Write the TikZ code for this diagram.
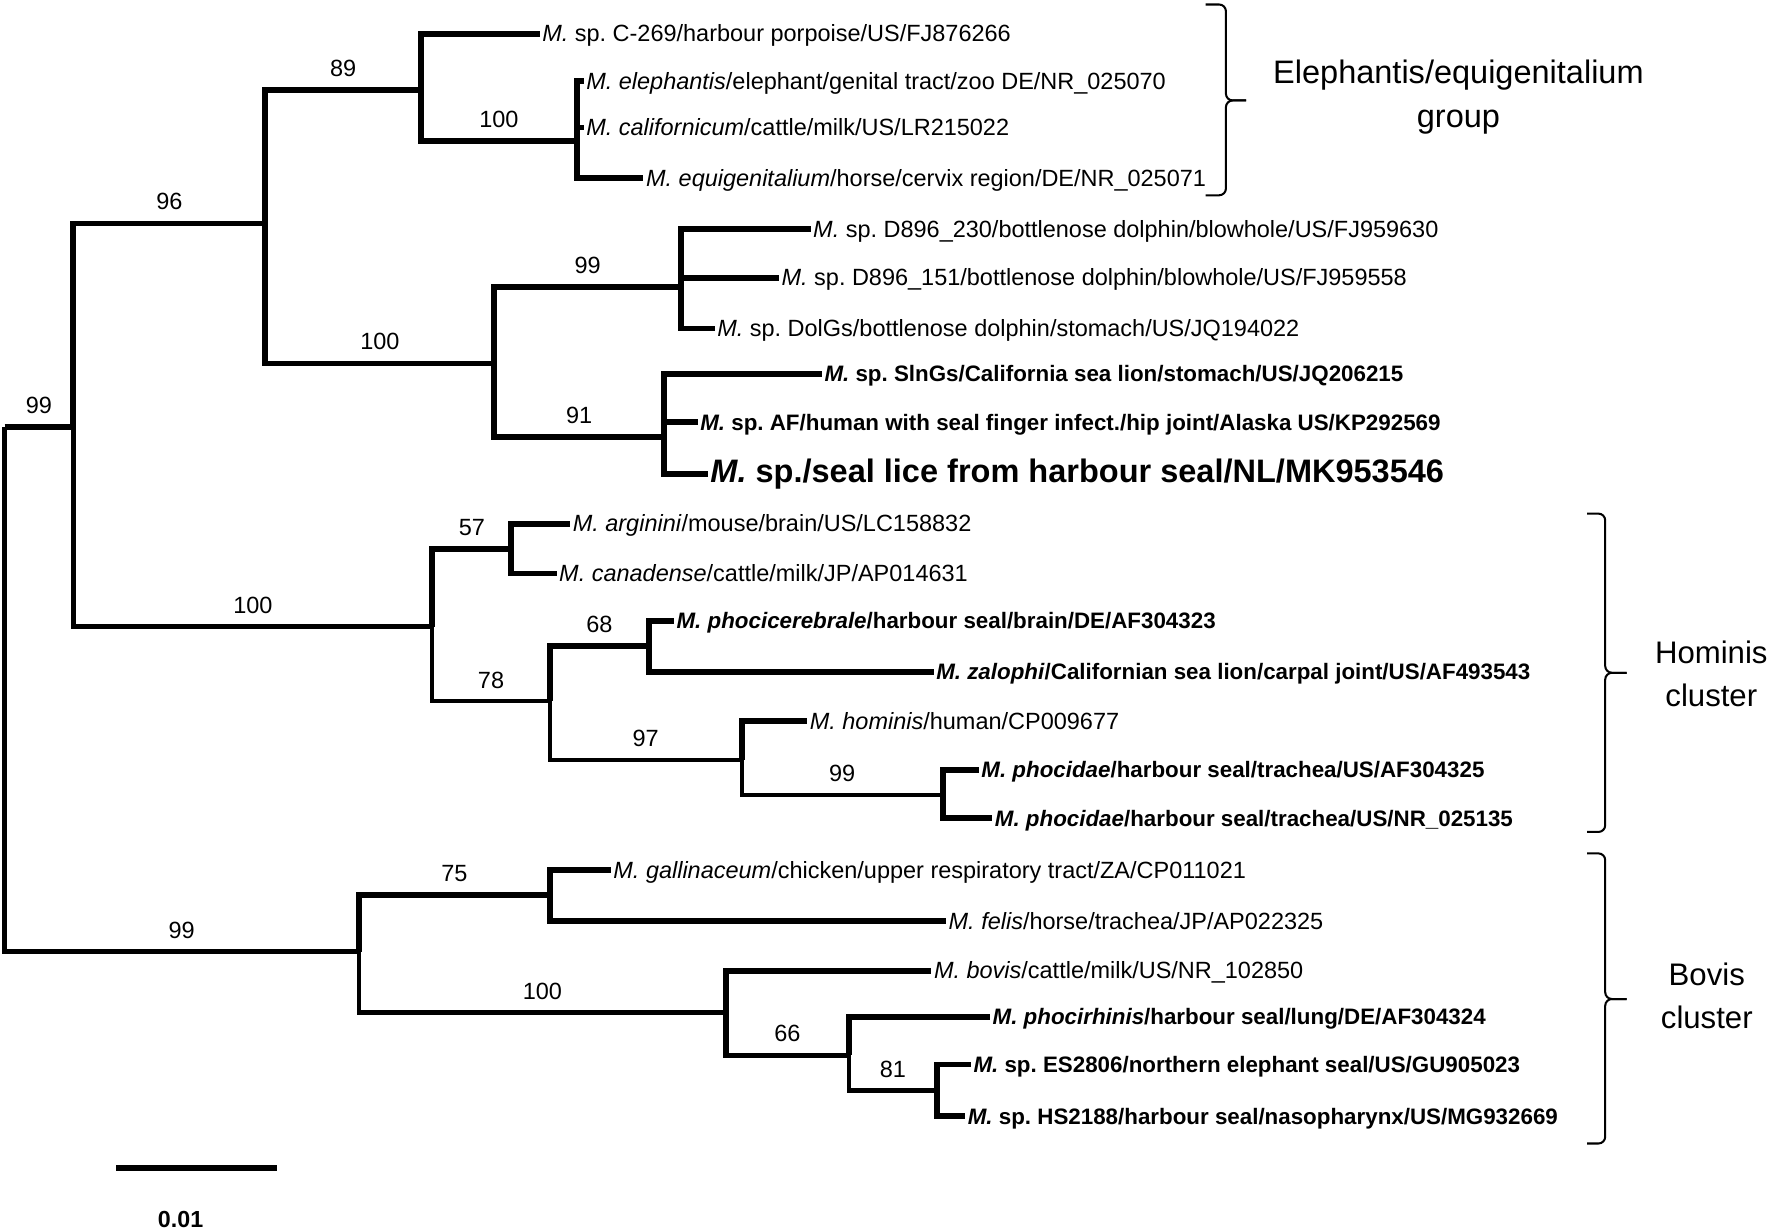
\documentclass[tikz,border=0pt]{standalone}
\usepackage{fontspec}
\setmainfont{Liberation Sans}
\frenchspacing

\begin{document}
\begin{tikzpicture}[x=0.5pt, y=-0.5pt,
    thk/.style={line width=2.6pt},
    thn/.style={line width=1.9pt},
    leaf/.style={anchor=west, inner xsep=1pt, inner ysep=0pt, text height=0.9em, text depth=0.2em, font=\fontsize{10.4}{12}\selectfont},
    bleaf/.style={leaf, font=\fontsize{9.9}{12}\selectfont\bfseries},
    boot/.style={pos=0.75, above=4.6pt, inner sep=0pt, font=\fontsize{10.4}{12}\selectfont},
    grp/.style={align=center, font=\fontsize{13.8}{19}\selectfont},
    bracket/.style={line width=0.9pt, rounded corners=3pt}]
\useasboundingbox (0,0) rectangle (1568,1091);

\coordinate (root) at (4,378);
\coordinate (a) at (65,378);
\coordinate (b) at (235,198);
\coordinate (c) at (373,80);
\coordinate (d) at (511,125);
\coordinate (e) at (438,322);
\coordinate (f) at (603,254);
\coordinate (g) at (588,387);
\coordinate (h) at (383,555);
\coordinate (i) at (453,486);
\coordinate (j) at (487,621);
\coordinate (k) at (575,572);
\coordinate (l) at (657,673);
\coordinate (m) at (835,704);
\coordinate (n) at (318,843);
\coordinate (o) at (487,793);
\coordinate (p) at (643,897);
\coordinate (q) at (752,935);
\coordinate (s) at (830,966);

\node[leaf] (sp269) at (478,30) {\textit{M.} sp. C-269/harbour porpoise/US/FJ876266};
\node[leaf] (eleph) at (517,72) {\textit{M. elephantis}/elephant/genital tract/zoo DE/NR\_025070};
\node[leaf] (calif) at (517,113) {\textit{M. californicum}/cattle/milk/US/LR215022};
\node[leaf] (equig) at (570,158) {\textit{M. equigenitalium}/horse/cervix region/DE/NR\_025071};
\node[leaf] (d230) at (718,203) {\textit{M.} sp. D896\_230/bottlenose dolphin/blowhole/US/FJ959630};
\node[leaf] (d151) at (690,246) {\textit{M.} sp. D896\_151/bottlenose dolphin/blowhole/US/FJ959558};
\node[leaf] (dolgs) at (633,291) {\textit{M.} sp. DolGs/bottlenose dolphin/stomach/US/JQ194022};
\node[bleaf] (slngs) at (728,331) {\textit{M.} sp. SlnGs/California sea lion/stomach/US/JQ206215};
\node[bleaf] (spaf) at (618,374) {\textit{M.} sp. AF/human with seal finger infect./hip joint/Alaska US/KP292569};
\node[leaf, font=\fontsize{14.4}{16}\selectfont\bfseries] (lice) at (627,420) {\textit{M.} sp./seal lice from harbour seal/NL/MK953546};
\node[leaf] (argin) at (505,464) {\textit{M. arginini}/mouse/brain/US/LC158832};
\node[leaf] (canad) at (493,508) {\textit{M. canadense}/cattle/milk/JP/AP014631};
\node[bleaf] (phcer) at (597,550) {\textit{M. phocicerebrale}/harbour seal/brain/DE/AF304323};
\node[bleaf] (zalop) at (827,595) {\textit{M. zalophi}/Californian sea lion/carpal joint/US/AF493543};
\node[leaf] (homin) at (715,639) {\textit{M. hominis}/human/CP009677};
\node[bleaf] (phoc1) at (867,682) {\textit{M. phocidae}/harbour seal/trachea/US/AF304325};
\node[bleaf] (phoc2) at (879,725) {\textit{M. phocidae}/harbour seal/trachea/US/NR\_025135};
\node[leaf] (galli) at (541,771) {\textit{M. gallinaceum}/chicken/upper respiratory tract/ZA/CP011021};
\node[leaf] (felis) at (838,816) {\textit{M. felis}/horse/trachea/JP/AP022325};
\node[leaf] (bovis) at (825,860) {\textit{M. bovis}/cattle/milk/US/NR\_102850};
\node[bleaf] (phrhi) at (877,901) {\textit{M. phocirhinis}/harbour seal/lung/DE/AF304324};
\node[bleaf] (es2806) at (860,943) {\textit{M.} sp. ES2806/northern elephant seal/US/GU905023};
\node[bleaf] (hs2188) at (855,989) {\textit{M.} sp. HS2188/harbour seal/nasopharynx/US/MG932669};

\draw[thk] (root) -- (a) node[midway, above=4.6pt, inner sep=0pt, font=\fontsize{10.4}{12}\selectfont] {99};
\draw[thn] (root) |- (n) node[boot] {99};
\draw[thk] (a) |- (b) node[boot] {96};
\draw[thn] (a) |- (h) node[boot] {100};
\draw[thk] (b) |- (c) node[boot] {89};
\draw[thk] (b) |- (e) node[boot] {100};
\draw[thk] (c) |- (sp269.west);
\draw[thk] (c) |- (d) node[boot] {100};
\draw[thk] (d) |- (eleph.west);
\draw[thk] (d) |- (calif.west);
\draw[thk] (d) |- (equig.west);
\draw[thk] (e) |- (f) node[boot] {99};
\draw[thk] (e) |- (g) node[boot] {91};
\draw[thk] (f) |- (d230.west);
\draw[thk] (f) |- (d151.west);
\draw[thk] (f) |- (dolgs.west);
\draw[thk] (g) |- (slngs.west);
\draw[thk] (g) |- (spaf.west);
\draw[thk] (g) |- (lice.west);
\draw[thk] (h) |- (i) node[boot] {57};
\draw[thn] (h) |- (j) node[boot] {78};
\draw[thk] (i) |- (argin.west);
\draw[thk] (i) |- (canad.west);
\draw[thk] (j) |- (k) node[boot] {68};
\draw[thn] (j) |- (l) node[boot] {97};
\draw[thk] (k) |- (phcer.west);
\draw[thk] (k) |- (zalop.west);
\draw[thk] (l) |- (homin.west);
\draw[thn] (l) |- (m) node[boot] {99};
\draw[thk] (m) |- (phoc1.west);
\draw[thk] (m) |- (phoc2.west);
\draw[thk] (n) |- (o) node[boot] {75};
\draw[thn] (n) |- (p) node[boot] {100};
\draw[thk] (o) |- (galli.west);
\draw[thk] (o) |- (felis.west);
\draw[thk] (p) |- (bovis.west);
\draw[thk] (p) |- (q) node[boot] {66};
\draw[thk] (q) |- (phrhi.west);
\draw[thn] (q) |- (s) node[boot] {81};
\draw[thk] (s) |- (es2806.west);
\draw[thk] (s) |- (hs2188.west);

% scale bar
\coordinate (bar1) at (103,1035);
\coordinate (bar2) at (245,1035);
\draw[thk] (bar1) -- (bar2);
\node[font=\fontsize{10.3}{12}\selectfont\bfseries] (barlab) at (160,1080) {0.01};

% group brackets
\draw[bracket] (1068,4) -- (1086,4) -- (1086,89) -- (1104,89);
\draw[bracket] (1068,173) -- (1086,173) -- (1086,89) -- (1104,89);
\node[grp, font=\fontsize{14.4}{19.5}\selectfont] (elegrp) at (1292,86) {Elephantis/equigenitalium\\group};
\draw[bracket] (1406,455) -- (1422,455) -- (1422,596) -- (1441,596);
\draw[bracket] (1406,737) -- (1422,737) -- (1422,596) -- (1441,596);
\node[grp] (homgrp) at (1516,597) {Hominis\\cluster};
\draw[bracket] (1406,756) -- (1422,756) -- (1422,885) -- (1441,885);
\draw[bracket] (1406,1013) -- (1422,1013) -- (1422,885) -- (1441,885);
\node[grp] (bovgrp) at (1512,882) {Bovis\\cluster};
\end{tikzpicture}
\end{document}
